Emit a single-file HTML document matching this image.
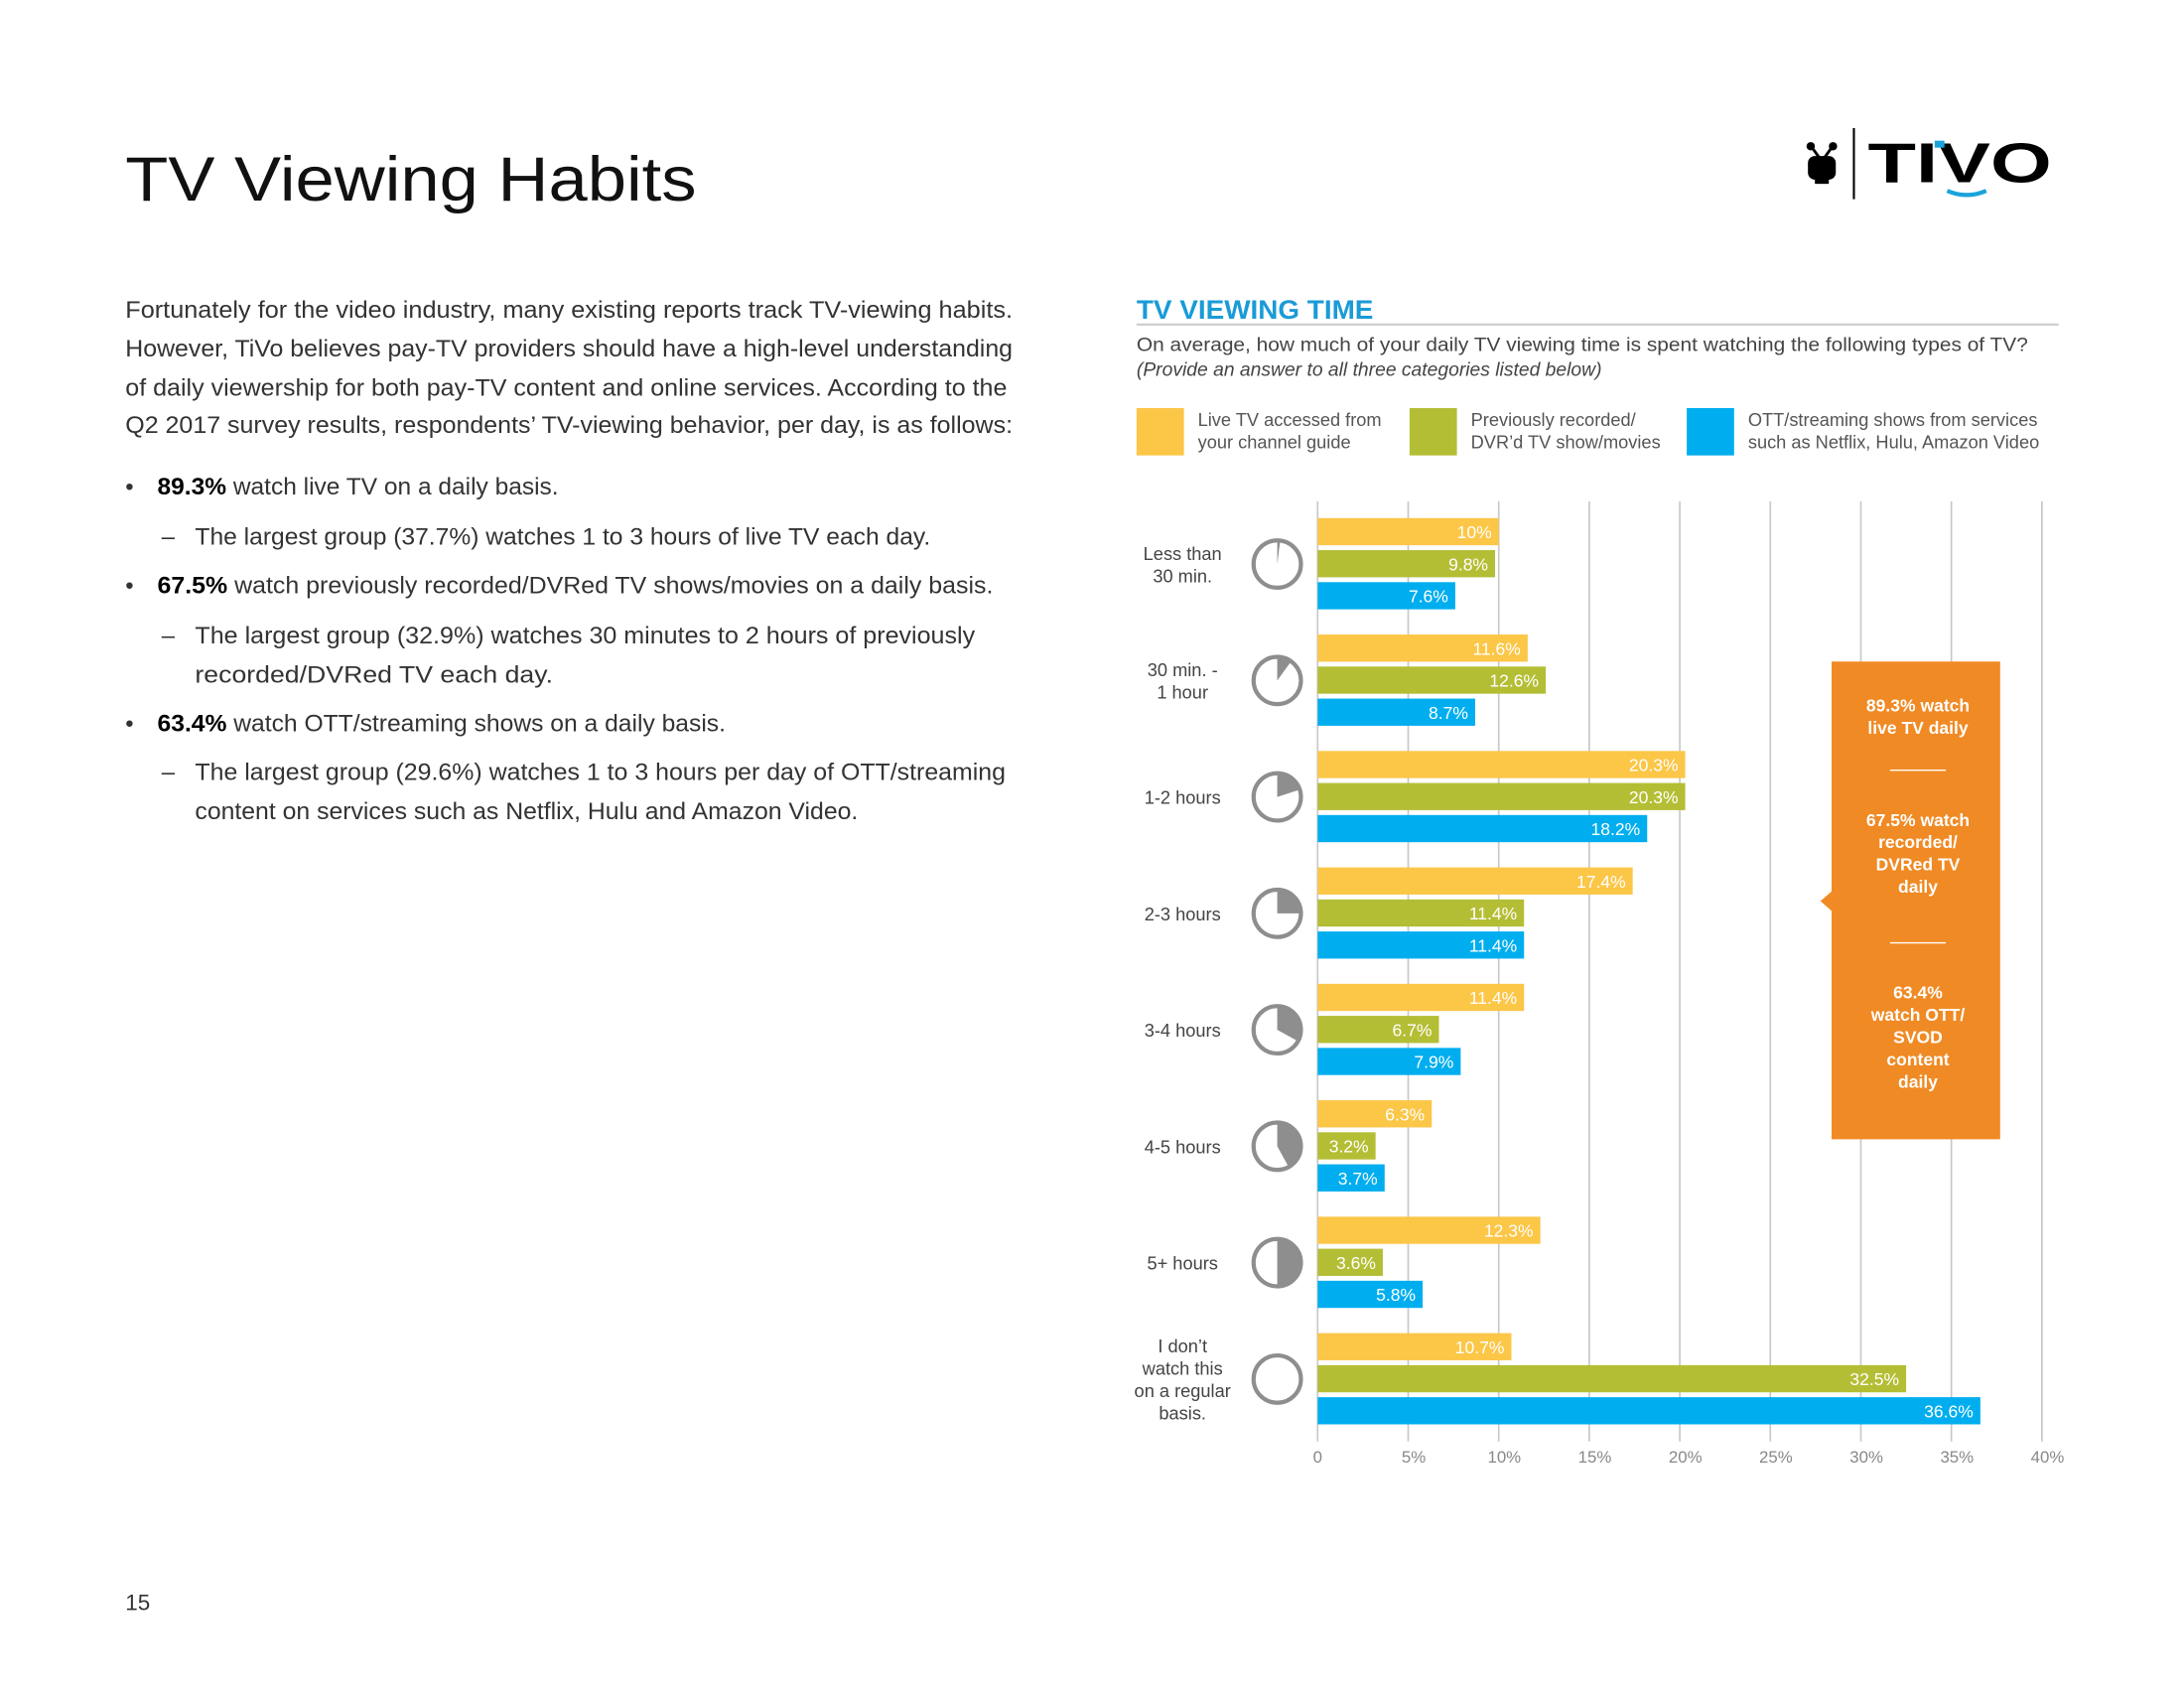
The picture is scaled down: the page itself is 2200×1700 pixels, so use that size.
<!DOCTYPE html>
<html><head><meta charset="utf-8"><style>
html,body{margin:0;padding:0;background:#fff;width:2200px;height:1700px;overflow:hidden}
svg{display:block}
text{font-family:"Liberation Sans",sans-serif}
</style></head><body>
<svg id="page" width="2200" height="1700" viewBox="0 0 1568 1212" preserveAspectRatio="none" xmlns="http://www.w3.org/2000/svg">
<text x="90" y="144" font-size="45" fill="#111" textLength="410" lengthAdjust="spacingAndGlyphs">TV Viewing Habits</text>
<g>
<circle cx="1300" cy="105" r="3" fill="#000"/><circle cx="1316" cy="105" r="3" fill="#000"/>
<line x1="1301" y1="106" x2="1306" y2="113" stroke="#000" stroke-width="2"/><line x1="1315" y1="106" x2="1310" y2="113" stroke="#000" stroke-width="2"/>
<rect x="1298" y="112" width="20" height="17" rx="5" fill="#000"/><rect x="1303" y="129" width="10" height="3" fill="#000"/>
<line x1="1331" y1="92" x2="1331" y2="143" stroke="#000" stroke-width="1.5"/>
<text x="1341" y="131" font-size="40" font-weight="bold" fill="#000" textLength="132" lengthAdjust="spacingAndGlyphs">TIVO</text>
<rect x="1389" y="101" width="7" height="5" fill="#1aa3db"/>
<path d="M1398 137 Q1412 143 1426 137" stroke="#1aa3db" stroke-width="3" fill="none"/>
</g>
<g font-size="17" fill="#333">
<text x="90" y="228" textLength="637" lengthAdjust="spacingAndGlyphs">Fortunately for the video industry, many existing reports track TV-viewing habits.</text>
<text x="90" y="256" textLength="637" lengthAdjust="spacingAndGlyphs">However, TiVo believes pay-TV providers should have a high-level understanding</text>
<text x="90" y="284" textLength="633" lengthAdjust="spacingAndGlyphs">of daily viewership for both pay-TV content and online services. According to the</text>
<text x="90" y="311" textLength="637" lengthAdjust="spacingAndGlyphs">Q2 2017 survey results, respondents’ TV-viewing behavior, per day, is as follows:</text>
<text x="90" y="355">•</text><text x="113" y="355" textLength="288" lengthAdjust="spacingAndGlyphs"><tspan font-weight="bold" fill="#000">89.3%</tspan> watch live TV on a daily basis.</text>
<text x="116" y="391">–</text><text x="140" y="391" textLength="528" lengthAdjust="spacingAndGlyphs">The largest group (37.7%) watches 1 to 3 hours of live TV each day.</text>
<text x="90" y="426">•</text><text x="113" y="426" textLength="600" lengthAdjust="spacingAndGlyphs"><tspan font-weight="bold" fill="#000">67.5%</tspan> watch previously recorded/DVRed TV shows/movies on a daily basis.</text>
<text x="116" y="462">–</text><text x="140" y="462" textLength="560" lengthAdjust="spacingAndGlyphs">The largest group (32.9%) watches 30 minutes to 2 hours of previously</text>
<text x="140" y="490" textLength="257" lengthAdjust="spacingAndGlyphs">recorded/DVRed TV each day.</text>
<text x="90" y="525">•</text><text x="113" y="525" textLength="408" lengthAdjust="spacingAndGlyphs"><tspan font-weight="bold" fill="#000">63.4%</tspan> watch OTT/streaming shows on a daily basis.</text>
<text x="116" y="560">–</text><text x="140" y="560" textLength="582" lengthAdjust="spacingAndGlyphs">The largest group (29.6%) watches 1 to 3 hours per day of OTT/streaming</text>
<text x="140" y="588" textLength="476" lengthAdjust="spacingAndGlyphs">content on services such as Netflix, Hulu and Amazon Video.</text>
</g>
<text x="90" y="1156" font-size="16" fill="#333">15</text>
<text x="816" y="229" font-size="19" font-weight="bold" fill="#1a9bd7" textLength="170" lengthAdjust="spacingAndGlyphs">TV VIEWING TIME</text>
<line x1="816" y1="233" x2="1478" y2="233" stroke="#ccc" stroke-width="1.5"/>
<text x="816" y="252" font-size="14" fill="#444" textLength="640" lengthAdjust="spacingAndGlyphs">On average, how much of your daily TV viewing time is spent watching the following types of TV?</text>
<text x="816" y="270" font-size="14" font-style="italic" fill="#444" textLength="334" lengthAdjust="spacingAndGlyphs">(Provide an answer to all three categories listed below)</text>
<g id="legend" font-size="13" fill="#555"></g>
<g id="chart"></g>
<g>
<rect x="1315" y="475" width="121" height="343" fill="#f08a24"/>
<path d="M1315 640 L1307 647 L1315 654 Z" fill="#f08a24"/>
<g fill="#fff" font-size="12.5" font-weight="bold" text-anchor="middle">
<text x="1377" y="511">89.3% watch</text><text x="1377" y="527">live TV daily</text>
<text x="1377" y="593">67.5% watch</text><text x="1377" y="609">recorded/</text><text x="1377" y="625">DVRed TV</text><text x="1377" y="641">daily</text>
<text x="1377" y="717">63.4%</text><text x="1377" y="733">watch OTT/</text><text x="1377" y="749">SVOD</text><text x="1377" y="765">content</text><text x="1377" y="781">daily</text>
</g>
<line x1="1357" y1="553" x2="1397" y2="553" stroke="#fff" stroke-width="1"/>
<line x1="1357" y1="677" x2="1397" y2="677" stroke="#fff" stroke-width="1"/>
</g>
</svg>
<script>
const categories = [["Less than","30 min."],["30 min. -","1 hour"],["1-2 hours"],["2-3 hours"],["3-4 hours"],["4-5 hours"],["5+ hours"],["I don’t","watch this","on a regular","basis."]];
const liveTV = [10, 11.6, 20.3, 17.4, 11.4, 6.3, 12.3, 10.7];
const dvrTV = [9.8, 12.6, 20.3, 11.4, 6.7, 3.2, 3.6, 32.5];
const ottTV = [7.6, 8.7, 18.2, 11.4, 7.9, 3.7, 5.8, 36.6];
const liveLabels = ["10%","11.6%","20.3%","17.4%","11.4%","6.3%","12.3%","10.7%"];
const dvrLabels = ["9.8%","12.6%","20.3%","11.4%","6.7%","3.2%","3.6%","32.5%"];
const ottLabels = ["7.6%","8.7%","18.2%","11.4%","7.9%","3.7%","5.8%","36.6%"];
const clockFractions = [0.02, 0.1, 0.2, 0.25, 0.33, 0.42, 0.5, 0];
const tickValues = [0,5,10,15,20,25,30,35,40];
const tickLabels = ["0","5%","10%","15%","20%","25%","30%","35%","40%"];
const seriesNames = [["Live TV accessed from","your channel guide"],["Previously recorded/","DVR’d TV show/movies"],["OTT/streaming shows from services","such as Netflix, Hulu, Amazon Video"]];

const NS="http://www.w3.org/2000/svg";
const colors=["#fcc647","#b4be35","#00aeef"];
const x0=946, x1=1466, xMax=40;
const xs=v=>x0+(v/xMax)*(x1-x0);
const gTop=372, gStep=83.6, barH=19.5, barStep=23;
const chart=document.getElementById('chart');
function mk(tag,attrs,parent){const e=document.createElementNS(NS,tag);for(const k in attrs)e.setAttribute(k,attrs[k]);parent.appendChild(e);return e;}

tickValues.forEach((t,i)=>{
  const l=mk('line',{x1:xs(t),x2:xs(t),y1:360,y2:1035,stroke:'#c8c8c8','stroke-width':1.2},chart);
  
  
  const tx=mk('text',{x:xs(t)+(i?4:0),y:1050,'font-size':12,fill:'#888','text-anchor':'middle'},chart);
  tx.textContent=tickLabels[i];
  
  
});

const series=[liveTV,dvrTV,ottTV], labels=[liveLabels,dvrLabels,ottLabels];
categories.forEach((c,ci)=>{
  const gy=gTop+ci*gStep;
  series.forEach((s,si)=>{
    const y=gy+si*barStep;
    const r=mk('rect',{x:x0,y:y,width:xs(s[ci])-x0,height:barH,fill:colors[si]},chart);
    
    
    const t=mk('text',{x:xs(s[ci])-5,y:y+14.5,'font-size':12.5,fill:'#fff','text-anchor':'end'},chart);
    t.textContent=labels[si][ci];
    
    
  });
  const cy=gy+33;
  const n=c.length;
  c.forEach((line,li)=>{
    const t=mk('text',{x:849,y:cy+5+(li-(n-1)/2)*16,'font-size':13,fill:'#444','text-anchor':'middle'},chart);
    t.textContent=line;
    
    
  });
  const cx=917, r=17, f=clockFractions[ci];
  if(f>0){
    const a=2*Math.PI*f, ex=cx+r*Math.sin(a), ey=cy-r*Math.cos(a);
    const p=mk('path',{d:`M${cx} ${cy} L${cx} ${cy-r} A${r} ${r} 0 ${f>0.5?1:0} 1 ${ex} ${ey} Z`,fill:'#8e8e8e'},chart);
    
    
  }
  const ring=mk('circle',{cx:cx,cy:cy,r:r,fill:'none',stroke:'#8e8e8e','stroke-width':3},chart);
  
  
});

const legend=document.getElementById('legend');
const lx=[816,1012,1211];
seriesNames.forEach((nm,i)=>{
  const sw=mk('rect',{x:lx[i],y:293,width:34,height:34,fill:colors[i]},legend);
  
  
  nm.forEach((line,li)=>{
    const t=mk('text',{x:lx[i]+44,y:306+li*16},legend);
    t.textContent=line;
    
    
  });
});
</script>
</body></html>
